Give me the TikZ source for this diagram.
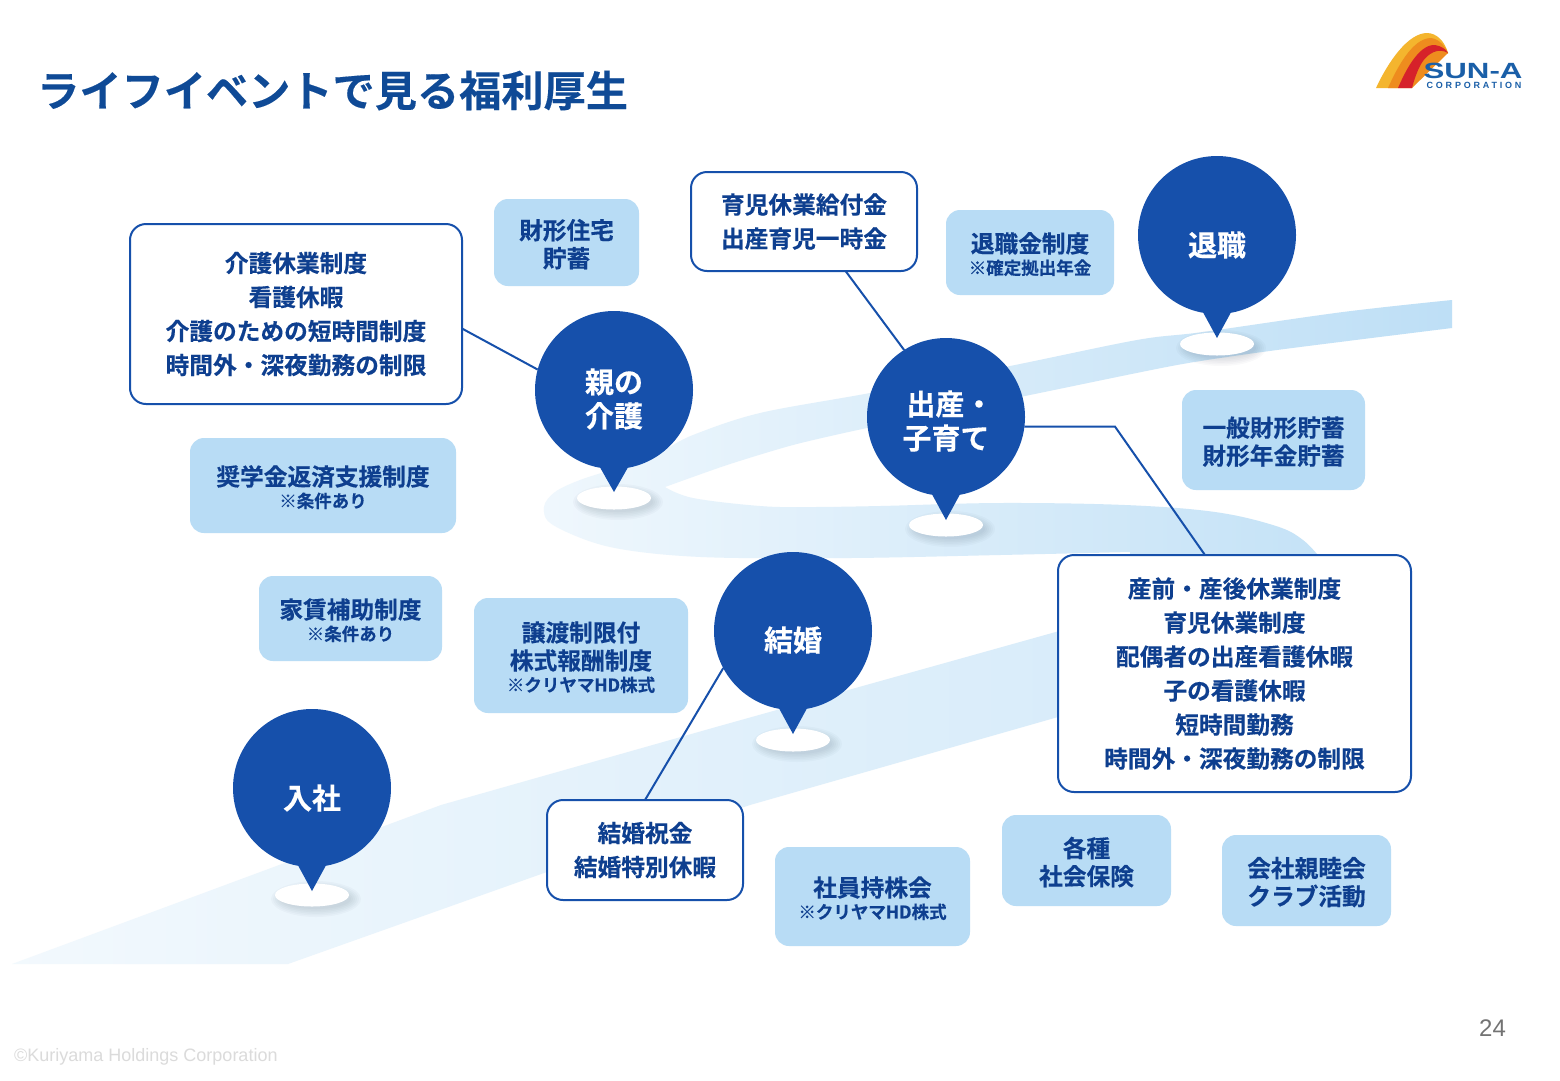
\documentclass[tikz,border=0pt]{standalone}
\usepackage{fontspec}
\setmainfont{Noto Sans CJK JP}[BoldFont={Noto Sans CJK JP Bold},BoldFeatures={FakeBold=0.3}]
\newfontfamily\latinfont{Liberation Sans}
\newfontfamily\logospaced{Liberation Sans}[LetterSpace=31]
\usetikzlibrary{calc,shapes.geometric}
\definecolor{pinblue}{HTML}{1650AB}
\definecolor{inkblue}{HTML}{0E3F8F}
\definecolor{titleblue}{HTML}{0F4A96}
\definecolor{paleblue}{HTML}{B8DCF5}
\definecolor{logoyellow}{HTML}{F4B52E}
\definecolor{logoorange}{HTML}{EE8C1E}
\definecolor{logored}{HTML}{D6222A}
\definecolor{logoblue}{HTML}{1A5FA8}
\newcommand{\bodyfont}{\fontsize{23.7}{34}\bfseries\selectfont}
\newcommand{\smalltext}[1]{{\fontsize{17.5}{21}\bfseries\selectfont #1}}
\tikzset{
  road/.style={draw=none},
  pinball/.style={circle,fill=pinblue,minimum size=158pt,inner sep=0pt,outer sep=0pt},
  pinlabel/.style={text=white,align=center,inner sep=0pt,font=\fontsize{29}{34}\bfseries\selectfont},
  pinbase/.style={ellipse,fill=white,minimum width=74pt,minimum height=23pt,inner sep=0pt,outer sep=0pt},
  softbox/.style={fill=paleblue,rounded corners=14pt,text=inkblue,align=center,inner sep=0pt,outer sep=0pt,font=\bodyfont},
  linebox/.style={fill=white,draw=pinblue,line width=2pt,rounded corners=16pt,text=inkblue,align=center,inner sep=0pt,outer sep=0pt,font=\bodyfont},
  link/.style={draw=pinblue,line width=2pt},
}
\newcommand{\softrect}[6]{% name, x1, y1, x2, y2, text
  \node[softbox,minimum width=#4pt-#2pt,minimum height=#5pt-#3pt] (#1) at ({(#2+#4)/2},{(#3+#5)/2}) {\rule{0pt}{23.5pt}#6};}
\newcommand{\linerect}[6]{%
  \node[linebox,minimum width=#4pt-#2pt,minimum height=#5pt-#3pt] (#1) at ({(#2+#4)/2},{(#3+#5)/2}) {#6};}
\newcommand{\basemark}[3]{% name, x, y
  \foreach \k in {10,8,6,4,2,0}{
    \fill[pinblue!35!black,opacity=.022] (#2+4,#3+4) ellipse ({35+\k} and {10+\k*.8});}
  \node[pinbase] (#1) at (#2,#3) {};}
\newcommand{\pinmark}[6]{% name, x, y, tip y, label offset, label
  \coordinate (#1tip) at (#2,#4);
  \node[pinball,label={[pinlabel,yshift=-#5pt]center:#6}] (#1) at (#2,#3) {};
  \fill[pinblue] (#1.260) -- (#1tip) -- (#1.280) -- cycle;}
\begin{document}
\begin{tikzpicture}[x=1pt,y=-1pt]
\useasboundingbox (0,0) rectangle (1560,1080);
\fill[white] (0,0) rectangle (1560,1080);
% road
\shade[road,left color=paleblue!18!white,right color=paleblue!62!white]
  (12,964) -- (441,805) -- (716,727) -- (1070,628) -- (1300,600) -- (1300,700) -- (1058,717)
  -- (750,805) -- (544,873) -- (288,964) -- cycle;
\shade[road,left color=paleblue!22!white,right color=paleblue!92!white]
  plot[smooth,tension=.55] coordinates {(1452,300) (1343,312) (1203,332) (1137,340) (1010,366) (870,393) (760,413) (693,435) (660,452) (620,467) (580,480) (555,492) (544,507) (553,525) (610,547) (701,557) (850,558) (1000,555) (1130,552)}
  -- (1130,600) -- (1322,600)
  -- plot[smooth,tension=.6] coordinates {(1322,560) (1303,540) (1276,526) (1215,512) (1125,505) (1000,503) (880,506) (810,507) (760,506) (693,498) (665,487)}
  -- plot[smooth,tension=.4] coordinates {(665,487) (727,465) (793,445) (867,428) (1025,396) (1177,365) (1277,350) (1452,328)}
  -- cycle;
% bases
\basemark{b1}{312}{895}
\basemark{b2}{793}{740}
\basemark{b3}{614}{498}
\basemark{b4}{946}{525}
\basemark{b5}{1217}{344}
% soft boxes
\softrect{zaikei}{494}{199}{639}{286}{財形住宅\\[-6pt]貯蓄}
\softrect{taishoku}{946}{210}{1114}{295}{退職金制度\\[-12pt]\smalltext{※確定拠出年金}}
\softrect{ippan}{1182}{390}{1365}{490}{一般財形貯蓄\\[-6pt]財形年金貯蓄}
\softrect{shogaku}{190}{438}{456}{533}{奨学金返済支援制度\\[-12pt]\smalltext{※条件あり}}
\softrect{yachin}{259}{576}{442}{661}{家賃補助制度\\[-12pt]\smalltext{※条件あり}}
\softrect{joto}{474}{598}{688}{713}{譲渡制限付\\[-6pt]株式報酬制度\\[-12pt]\smalltext{※クリヤマHD株式}}
\softrect{mochikabu}{775}{847}{970}{946}{社員持株会\\[-12pt]\smalltext{※クリヤマHD株式}}
\softrect{hoken}{1002}{815}{1171}{906}{各種\\[-6pt]社会保険}
\softrect{club}{1222}{835}{1391}{926}{会社親睦会\\[-6pt]クラブ活動}
% line boxes
\linerect{kaigo}{130}{224}{462}{404}{介護休業制度\\看護休暇\\介護のための短時間制度\\時間外・深夜勤務の制限}
\linerect{ikuji}{691}{172}{917}{271}{育児休業給付金\\出産育児一時金}
\linerect{sanzen}{1058}{555}{1411}{792}{産前・産後休業制度\\育児休業制度\\配偶者の出産看護休暇\\子の看護休暇\\短時間勤務\\時間外・深夜勤務の制限}
\linerect{kekkon}{547}{800}{743}{900}{結婚祝金\\結婚特別休暇}
% pins and connectors
\path (793,631) coordinate (c2) (614,390) coordinate (c3) (946,417) coordinate (c4);
\node[pinball,draw=none,fill=none] (q2) at (c2) {};
\node[pinball,draw=none,fill=none] (q3) at (c3) {};
\node[pinball,draw=none,fill=none] (q4) at (c4) {};
\draw[link] (kaigo.-5.85) -- (q3.165.4);
\draw[link] (ikuji.-50.4) -- (q4.122.7);
\coordinate (ex) at (1115,0);
\coordinate (elbow) at (ex |- q4.-7.2);
\draw[link] (q4.-7.2) -- (elbow) -- (sanzen.104.9);
\draw[link] (q2.208.2) -- (kekkon.north);
\pinmark{p1}{312}{788}{891}{10}{入社}
\pinmark{p2}{793}{631}{734}{9}{結婚}
\pinmark{p3}{614}{390}{492}{9}{親の\\介護}
\pinmark{p4}{946}{417}{520}{4}{\hspace*{8pt}出産・\\子育て}
\pinmark{p5}{1217}{235}{338}{10}{退職}
% title
\node[anchor=west,inner sep=0pt,text=titleblue,font=\fontsize{42.2}{46}\bfseries\selectfont] (title) at (37,90.5) {ライフイベントで見る福利厚生};
% logo
\fill[logoyellow] (1376,88) .. controls (1388,62) and (1408,33) .. (1427,33)
  .. controls (1437,33) and (1445,42) .. (1448,53) -- (1398,88) -- cycle;
\fill[logoorange] (1388,88) .. controls (1396,70) and (1412,38) .. (1431,38)
  .. controls (1439,39) and (1445,46) .. (1448,53) -- (1412,88) -- cycle;
\fill[logored] (1398,88) .. controls (1404,74) and (1418,44) .. (1435,45)
  .. controls (1441,46) and (1446,49) .. (1448,53)
  .. controls (1438,47) and (1428,54) .. (1423,61) .. controls (1418,68) and (1414,80) .. (1412,88) -- cycle;
\node[inner sep=0pt,text=logoblue,font=\latinfont\bfseries\fontsize{22}{23}\selectfont,xscale=1.42] (logotext) at (1473,71) {SUN-A};
\node[inner sep=0pt,text=logoblue,font=\logospaced\bfseries\fontsize{9}{9}\selectfont] (logosub) at (1474,85.5) {CORPORATION};
% footer
\node[anchor=west,inner sep=0pt,text=black!14,font=\latinfont\fontsize{18}{20}\selectfont] (copy) at (14,1056.5) {©Kuriyama Holdings Corporation};
\node[inner sep=0pt,text=black!55,font=\latinfont\fontsize{24}{26}\selectfont] (page) at (1492.5,1028) {24};
\end{tikzpicture}
\end{document}
